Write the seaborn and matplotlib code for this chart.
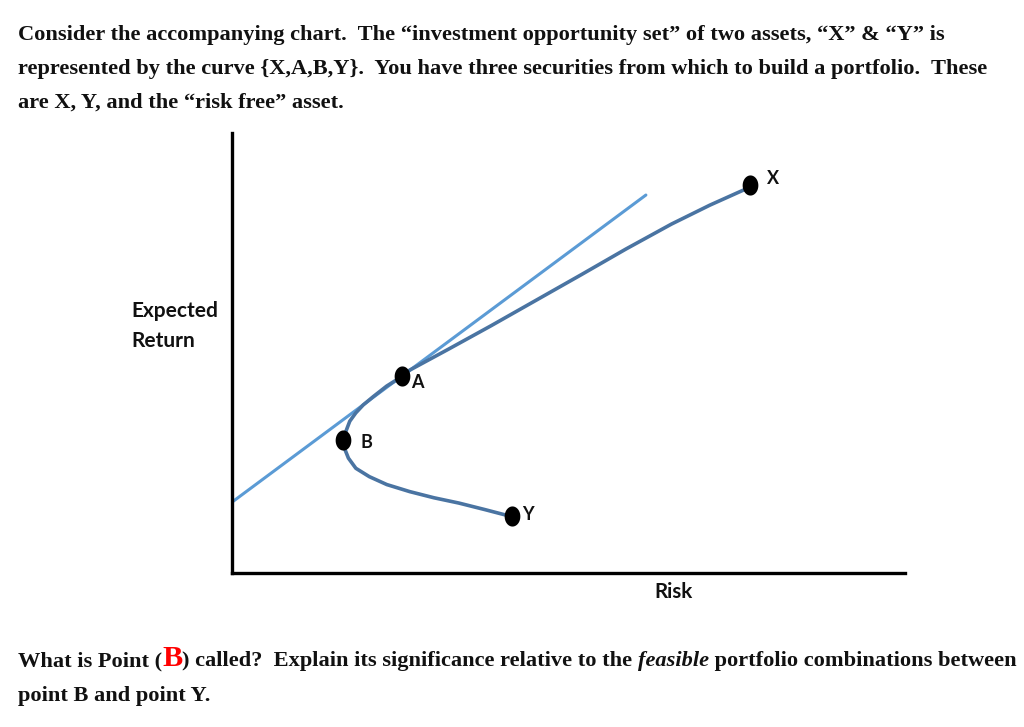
import numpy as np
import pandas as pd
import seaborn as sns
import matplotlib.pyplot as plt
from matplotlib.path import Path

# ---- data (risk 0-10, return 0-10 arbitrary units) ----
point_names = ["X", "A", "B", "Y"]
point_risk = [7.70, 2.52, 1.65, 4.16]
point_return = [8.82, 4.48, 3.02, 1.30]

curve_risk = [7.77, 7.10, 6.53, 5.85, 5.19, 4.52, 3.85, 3.22, 2.64, 2.54, 2.30,
              2.10, 1.95, 1.84, 1.75, 1.70, 1.67, 1.66, 1.68, 1.73, 1.84, 2.04,
              2.30, 2.64, 3.00, 3.37, 3.76, 4.16]
curve_return = [8.82, 8.36, 7.93, 7.36, 6.78, 6.20, 5.62, 5.09, 4.61, 4.48, 4.25,
                4.01, 3.82, 3.64, 3.45, 3.25, 3.10, 2.98, 2.80, 2.61, 2.38, 2.19,
                2.01, 1.85, 1.71, 1.59, 1.44, 1.28]

cml_risk = [0.0, 6.15]
cml_return = [1.61, 8.59]

x_label = "Risk"
y_label = "Expected\nReturn"

header_lines = [
    "Consider the accompanying chart.  The \u201cinvestment opportunity set\u201d of two assets, \u201cX\u201d & \u201cY\u201d is",
    "represented by the curve {X,A,B,Y}.  You have three securities from which to build a portfolio.  These",
    "are X, Y, and the \u201crisk free\u201d asset.",
]

# ---- figure ----
sns.set_theme(style="white")
plt.rcParams["font.family"] = ["Liberation Serif", "DejaVu Serif"]

W, H = 1024, 727
fig = plt.figure(figsize=(W / 100, H / 100), dpi=100)
fig.patch.set_facecolor("white")

ax = fig.add_axes([232 / W, 1 - 573 / H, 673 / W, 440 / H])
ax.set_xlim(0, 10)
ax.set_ylim(0, 10)
ax.set_facecolor("white")

curve_df = pd.DataFrame({"risk": curve_risk, "ret": curve_return})
cml_df = pd.DataFrame({"risk": cml_risk, "ret": cml_return})
pts_df = pd.DataFrame({"name": point_names, "risk": point_risk, "ret": point_return})

sns.lineplot(data=cml_df, x="risk", y="ret", sort=False, estimator=None,
             color="#5B9BD5", linewidth=2.2, ax=ax, zorder=2)
sns.lineplot(data=curve_df, x="risk", y="ret", sort=False, estimator=None,
             color="#4A74A2", linewidth=2.6, ax=ax, zorder=3)

# slightly tall elliptical marker
t = np.linspace(0, 2 * np.pi, 60)
ell = Path(np.column_stack([np.cos(t) * 0.78, np.sin(t)]), closed=True)
sns.scatterplot(data=pts_df, x="risk", y="ret", marker=ell, s=210,
                color="black", edgecolor="black", linewidth=0, ax=ax, zorder=4)

label_offsets = {"X": (17, 6), "A": (9, -7), "B": (17, -2), "Y": (10, 1)}
for n, r, e in zip(point_names, point_risk, point_return):
    dx, dy = label_offsets[n]
    ax.annotate(n, (r, e), xytext=(dx, dy), textcoords="offset pixels",
                fontsize=13, fontweight="bold", family="Lato",
                ha="left", va="center", color="#111111")

ax.set_xticks([])
ax.set_yticks([])
ax.set_xlabel("")
ax.set_ylabel("")
for s in ["top", "right"]:
    ax.spines[s].set_visible(False)
for s in ["left", "bottom"]:
    ax.spines[s].set_color("black")
    ax.spines[s].set_linewidth(2.4)

fig.text(131 / W, 1 - 326 / H, y_label, fontsize=15, fontweight="bold",
         family="Lato", ha="left", va="center", linespacing=1.6, color="#111111")
fig.text(673 / W, 1 - 592 / H, x_label, fontsize=14.8, fontweight="bold",
         family="Lato", ha="center", va="center", color="#111111")

# ---- header text ----
TXT = "#111111"
FS = 16.1
for i, line in enumerate(header_lines):
    fig.text(18 / W, 1 - (40 + 34 * i) / H, line, fontsize=FS, fontweight="bold",
             ha="left", va="baseline", color=TXT)

# ---- question text, pieces placed one after another ----
renderer = fig.canvas.get_renderer()


def run(pieces, x0, ybase):
    x = x0
    for s, kw in pieces:
        tx = fig.text(x / W, 1 - ybase / H, s, ha="left", va="baseline", **kw)
        bb = tx.get_window_extent(renderer=renderer)
        x += bb.width


base = dict(fontsize=FS, fontweight="bold", color=TXT)
run([
    ("What is Point (", base),
    ("B", dict(fontsize=FS * 1.35, fontweight="bold", color="#FF0000")),
    (") called?  Explain its significance relative to the ", base),
    ("feasible", dict(fontsize=FS, fontweight="bold", style="italic", color=TXT)),
    (" portfolio combinations between", base),
], 18, 666)
run([("point B and point Y.", base)], 18, 701)

fig.savefig("out.png", dpi=100, facecolor="white")
